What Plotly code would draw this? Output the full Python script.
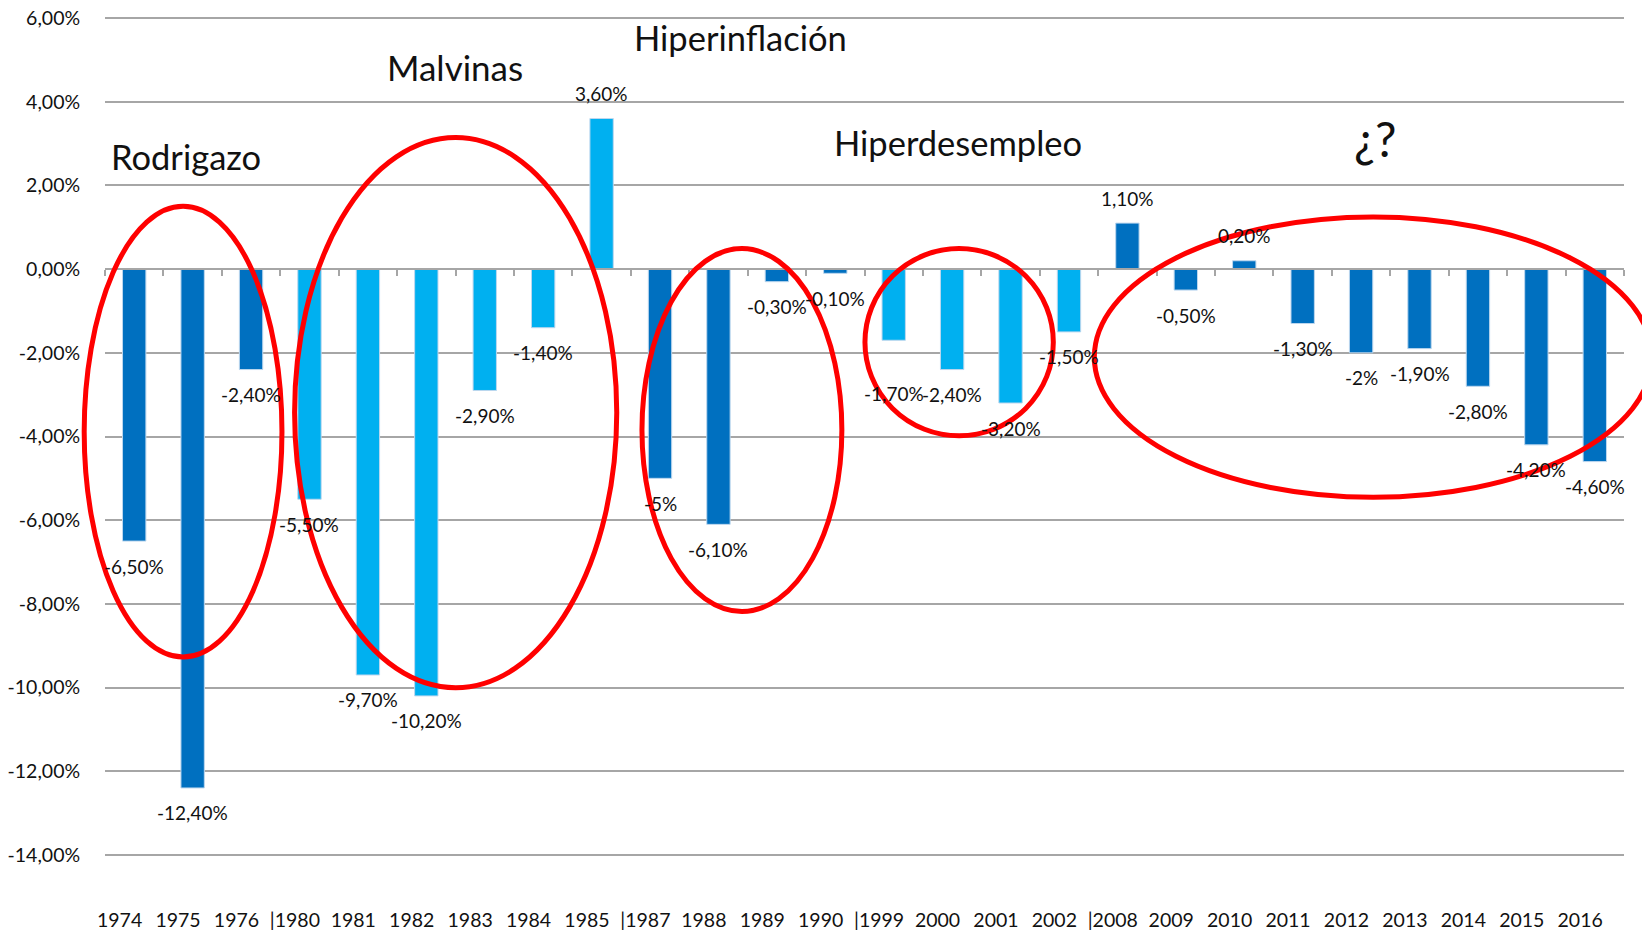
import plotly.graph_objects as go

# ---- data ----
years = ["1974", "1975", "1976", "1980", "1981", "1982", "1983", "1984", "1985",
         "1987", "1988", "1989", "1990", "1999", "2000", "2001", "2002",
         "2008", "2009", "2010", "2011", "2012", "2013", "2014", "2015", "2016"]
tick_labels = ["1974", "1975", "1976", "|1980", "1981", "1982", "1983", "1984", "1985",
               "|1987", "1988", "1989", "1990", "|1999", "2000", "2001", "2002",
               "|2008", "2009", "2010", "2011", "2012", "2013", "2014", "2015", "2016"]
values = [-6.5, -12.4, -2.4, -5.5, -9.7, -10.2, -2.9, -1.4, 3.6,
          -5.0, -6.1, -0.3, -0.1, -1.7, -2.4, -3.2, -1.5,
          1.1, -0.5, 0.2, -1.3, -2.0, -1.9, -2.8, -4.2, -4.6]
group = ["d", "d", "d", "l", "l", "l", "l", "l", "l",
         "d", "d", "d", "d", "l", "l", "l", "l",
         "d", "d", "d", "d", "d", "d", "d", "d", "d"]
y_ticks = [6, 4, 2, 0, -2, -4, -6, -8, -10, -12, -14]

events = ["Rodrigazo", "Malvinas", "Hiperinflación", "Hiperdesempleo", "¿?"]

DARK = "#0070C0"
LIGHT = "#00B0F0"
FONT = "Lato"
TXT = "#111111"

# label placement tweak (the 1999 label sits lower in the original)
label_shift_override = {"1999": -53}


def fmt(v):
    if abs(v - round(v)) < 1e-9:
        return f"{int(round(v))}%"
    return f"{v:.2f}%".replace(".", ",")


colors = [DARK if g == "d" else LIGHT for g in group]
n = len(years)
idx = list(range(n))

fig = go.Figure()
fig.add_trace(go.Bar(
    x=years, y=values,
    marker=dict(color=colors, line=dict(color="#BDD7EE", width=1)),
    hoverinfo="skip", showlegend=False,
))
# invisible trace carrying the bottom label axis
fig.add_trace(go.Scatter(
    x=idx, y=values, xaxis="x2", yaxis="y",
    mode="markers", marker=dict(opacity=0), hoverinfo="skip", showlegend=False,
))

annotations = []
for i, yr, v in zip(idx, years, values):
    ys = label_shift_override.get(yr, 25 if v > 0 else -25)
    annotations.append(dict(
        x=i, y=v, xref="x2", yref="y", text=fmt(v), showarrow=False,
        xshift=14.6,
        yshift=ys, yanchor="middle", xanchor="center",
        font=dict(family=FONT, size=19, color=TXT),
    ))

# event titles (paper positions)
ev_pos = [(0.0531, 0.8326, 34.5), (0.2302, 0.9398, 35), (0.4186, 0.9750, 34.5),
          (0.5613, 0.8491, 34.5), (0.8363, 0.8542, 48)]
for name, (px, py, fs) in zip(events, ev_pos):
    annotations.append(dict(
        x=px, y=py, xref="paper", yref="paper", text=name, showarrow=False,
        xanchor="center", yanchor="middle",
        font=dict(family=FONT, size=fs, color="#111111"),
    ))

ellipses = [(-0.0137, 0.2378, 0.1165, 0.7737),
            (0.1248, 0.2013, 0.3369, 0.8555),
            (0.3535, 0.2919, 0.4851, 0.7234),
            (0.5003, 0.5008, 0.6243, 0.7234),
            (0.6513, 0.4277, 1.0184, 0.7611)]
shapes = []
for x0, y0, x1, y1 in ellipses:
    shapes.append(dict(type="circle", xref="paper", yref="paper",
                       x0=x0, y0=y0, x1=x1, y1=y1,
                       line=dict(color="#FF0000", width=5), layer="above"))

shift = 0.25
ymin, ymax = -14.05, 6.05
fig.update_layout(
    width=1642, height=922,
    margin=dict(l=97, r=26, t=7.9, b=73.4),
    paper_bgcolor="white", plot_bgcolor="white",
    bargap=0.6,
    font=dict(family=FONT, size=19, color=TXT),
    xaxis=dict(
        type="category", range=[-0.5, n - 0.5],
        anchor="free", position=(0 - ymin) / (ymax - ymin),
        showline=True, linecolor="#A6A6A6", linewidth=1.5,
        ticks="outside", tickson="boundaries", ticklen=6, tickcolor="#A6A6A6", tickwidth=1.5,
        showticklabels=False, showgrid=False, zeroline=False, automargin=False,
    ),
    xaxis2=dict(
        type="linear", overlaying="x", anchor="y", side="bottom",
        range=[-0.5 + shift, n - 0.5 + shift],
        tickmode="array", tickvals=idx, ticktext=tick_labels,
        ticks="outside", ticklen=46, tickcolor="rgba(0,0,0,0)",
        showgrid=False, showline=False, zeroline=False, automargin=False,
        ticklabeloverflow="allow",
        tickfont=dict(family=FONT, size=19.5, color=TXT),
    ),
    yaxis=dict(
        range=[ymin, ymax], tickmode="array", tickvals=y_ticks,
        ticktext=[f"{t:.2f}%".replace(".", ",") for t in y_ticks],
        showgrid=True, gridcolor="#A6A6A6", gridwidth=1.5,
        zeroline=False, showline=False,
        ticks="outside", ticklen=20, tickcolor="rgba(0,0,0,0)",
        ticklabeloverflow="allow",
        tickfont=dict(family=FONT, size=19.5, color=TXT),
        automargin=False,
    ),
    annotations=annotations,
    shapes=shapes,
    hovermode=False,
)

fig.write_html("out.html")
